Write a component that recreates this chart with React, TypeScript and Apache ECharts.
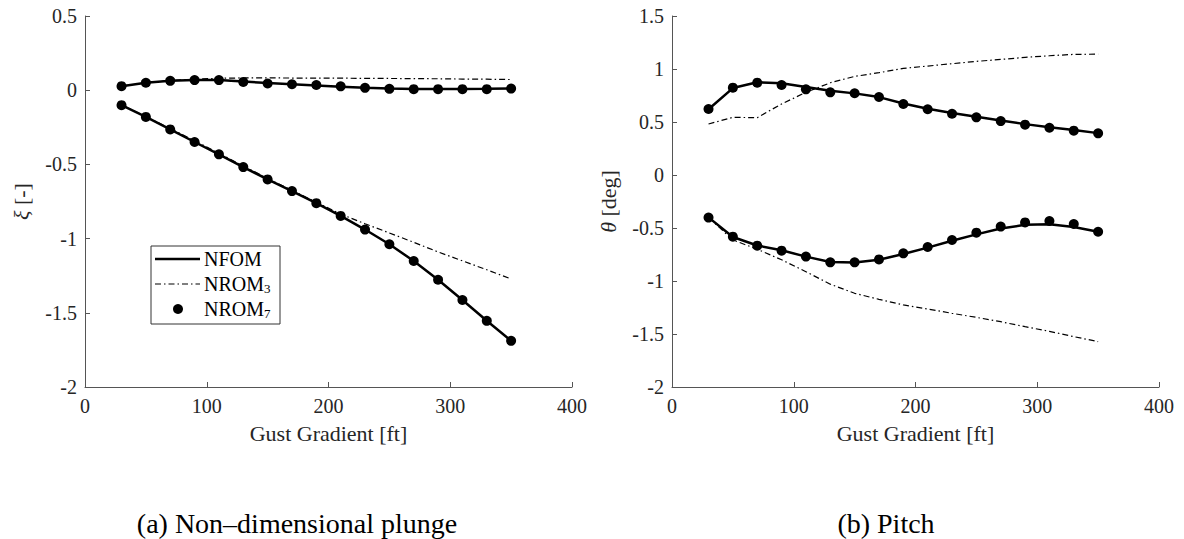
import React, { useEffect, useRef } from "react";
import * as echarts from "echarts";

const gust = [30, 50, 70, 90, 110, 130, 150, 170, 190, 210, 230, 250, 270, 290, 310, 330, 350];

// (a) non-dimensional plunge xi
const xiNfomUpper = [0.027, 0.05, 0.064, 0.069, 0.069, 0.059, 0.048, 0.04, 0.032, 0.024, 0.016, 0.011, 0.008, 0.008, 0.008, 0.009, 0.011];
const xiNfomLower = [-0.101, -0.18, -0.264, -0.349, -0.432, -0.518, -0.601, -0.68, -0.761, -0.847, -0.939, -1.038, -1.151, -1.277, -1.414, -1.554, -1.689];
const xiRom3Upper = [0.027, 0.05, 0.065, 0.074, 0.08, 0.083, 0.083, 0.082, 0.082, 0.081, 0.08, 0.079, 0.078, 0.077, 0.075, 0.074, 0.072];
const xiRom3Lower = [-0.1, -0.178, -0.258, -0.34, -0.425, -0.51, -0.595, -0.675, -0.755, -0.835, -0.9, -0.962, -1.025, -1.09, -1.15, -1.21, -1.272];
const xiRom7Upper = [0.027, 0.05, 0.063, 0.068, 0.068, 0.056, 0.045, 0.04, 0.035, 0.026, 0.016, 0.009, 0.007, 0.007, 0.007, 0.007, 0.011];
const xiRom7Lower = [-0.101, -0.18, -0.264, -0.349, -0.432, -0.518, -0.601, -0.68, -0.761, -0.847, -0.939, -1.038, -1.151, -1.277, -1.414, -1.554, -1.689];

// (b) pitch theta
const thNfomUpper = [0.62, 0.82, 0.875, 0.865, 0.83, 0.795, 0.77, 0.735, 0.675, 0.625, 0.585, 0.55, 0.515, 0.48, 0.45, 0.425, 0.395];
const thNfomLower = [-0.4, -0.585, -0.665, -0.71, -0.77, -0.82, -0.825, -0.8, -0.745, -0.685, -0.62, -0.56, -0.505, -0.47, -0.465, -0.49, -0.535];
const thRom3Upper = [0.481, 0.544, 0.541, 0.67, 0.78, 0.87, 0.93, 0.965, 1.006, 1.028, 1.05, 1.072, 1.09, 1.11, 1.125, 1.138, 1.14];
const thRom3Lower = [-0.4, -0.613, -0.7, -0.8, -0.912, -1.03, -1.116, -1.173, -1.226, -1.264, -1.305, -1.343, -1.384, -1.431, -1.475, -1.525, -1.572];
const thRom7Upper = [0.623, 0.824, 0.871, 0.849, 0.808, 0.78, 0.771, 0.736, 0.67, 0.62, 0.578, 0.544, 0.509, 0.475, 0.446, 0.418, 0.393];
const thRom7Lower = [-0.402, -0.582, -0.667, -0.714, -0.77, -0.824, -0.824, -0.796, -0.739, -0.679, -0.613, -0.544, -0.487, -0.447, -0.434, -0.462, -0.535];

const xTicks = { min: 0, max: 400, interval: 100 };
const yLeft = { min: -2, max: 0.5, interval: 0.5 };
const yRight = { min: -2, max: 1.5, interval: 0.5 };

const FONT = "Liberation Serif";
const DASHDOT = [6, 3, 1.5, 3];
const AXIS_COLOR = "#555";
const TEXT_COLOR = "#262626";

const pairs = (vals: number[]) => gust.map((g, i) => [g, vals[i]]);

function xAxisCfg(gridIndex: number) {
  return {
    type: "value",
    gridIndex,
    min: xTicks.min,
    max: xTicks.max,
    interval: xTicks.interval,
    name: "Gust Gradient [ft]",
    nameLocation: "middle",
    nameGap: 35,
    nameTextStyle: { fontFamily: FONT, fontSize: 22, color: TEXT_COLOR },
    axisLine: { show: true, onZero: false, lineStyle: { color: AXIS_COLOR, width: 1 } },
    axisTick: { show: true, inside: true, length: 5, lineStyle: { color: AXIS_COLOR } },
    axisLabel: { fontFamily: FONT, fontSize: 20, color: TEXT_COLOR, margin: 9 },
    splitLine: { show: false },
  };
}

function yAxisCfg(gridIndex: number, r: { min: number; max: number; interval: number }, sym: string, unit: string) {
  return {
    type: "value",
    gridIndex,
    min: r.min,
    max: r.max,
    interval: r.interval,
    name: `{i|${sym}}{n| ${unit}}`,
    nameLocation: "middle",
    nameGap: 53,
    nameTextStyle: {
      fontFamily: FONT,
      fontSize: 22,
      color: TEXT_COLOR,
      rich: {
        i: { fontFamily: FONT, fontSize: 22, fontStyle: "italic", color: TEXT_COLOR },
        n: { fontFamily: FONT, fontSize: 22, color: TEXT_COLOR },
      },
    },
    axisLine: { show: true, onZero: false, lineStyle: { color: AXIS_COLOR, width: 1 } },
    axisTick: { show: true, inside: true, length: 5, lineStyle: { color: AXIS_COLOR } },
    axisLabel: { fontFamily: FONT, fontSize: 20, color: TEXT_COLOR, margin: 8 },
    splitLine: { show: false },
  };
}

function solid(idx: number, vals: number[]) {
  return {
    type: "line",
    xAxisIndex: idx,
    yAxisIndex: idx,
    data: pairs(vals),
    showSymbol: false,
    lineStyle: { color: "#000", width: 2.5 },
    z: 3,
  };
}
function dashdot(idx: number, vals: number[]) {
  return {
    type: "line",
    xAxisIndex: idx,
    yAxisIndex: idx,
    data: pairs(vals),
    showSymbol: false,
    lineStyle: { color: "#000", width: 1.2, type: DASHDOT },
    z: 2,
  };
}
function dots(idx: number, vals: number[]) {
  return {
    type: "scatter",
    xAxisIndex: idx,
    yAxisIndex: idx,
    data: pairs(vals),
    symbol: "circle",
    symbolSize: 10,
    itemStyle: { color: "#000", opacity: 1 },
    z: 4,
  };
}

export default function App() {
  const ref = useRef<HTMLDivElement>(null);
  useEffect(() => {
    if (!ref.current) return;
    const chart = echarts.init(ref.current, undefined, { renderer: "svg" });
    const lx = 151, ly = 246;
    chart.setOption({
      animation: false,
      backgroundColor: "#fff",
      textStyle: { fontFamily: FONT },
      grid: [
        { left: 85, top: 16, width: 487, height: 371 },
        { left: 672, top: 16, width: 487, height: 371 },
      ],
      xAxis: [xAxisCfg(0), xAxisCfg(1)],
      yAxis: [yAxisCfg(0, yLeft, "ξ", "[-]"), yAxisCfg(1, yRight, "θ", "[deg]")],
      series: [
        dashdot(0, xiRom3Upper),
        dashdot(0, xiRom3Lower),
        solid(0, xiNfomUpper),
        solid(0, xiNfomLower),
        dots(0, xiRom7Upper),
        dots(0, xiRom7Lower),
        dashdot(1, thRom3Upper),
        dashdot(1, thRom3Lower),
        solid(1, thNfomUpper),
        solid(1, thNfomLower),
        dots(1, thRom7Upper),
        dots(1, thRom7Lower),
      ],
      graphic: [
        {
          type: "rect",
          shape: { x: lx, y: ly, width: 129, height: 78 },
          style: { fill: "#fff", stroke: "#333", lineWidth: 1 },
          z: 10,
        },
        {
          type: "line",
          shape: { x1: lx + 4, y1: ly + 13, x2: lx + 49, y2: ly + 13 },
          style: { stroke: "#000", lineWidth: 2.5 },
          z: 11,
        },
        {
          type: "line",
          shape: { x1: lx + 4, y1: ly + 38, x2: lx + 49, y2: ly + 38 },
          style: { stroke: "#000", lineWidth: 1.2, lineDash: DASHDOT },
          z: 11,
        },
        {
          type: "circle",
          shape: { cx: lx + 27, cy: ly + 63, r: 5 },
          style: { fill: "#000" },
          z: 11,
        },
        {
          type: "text",
          x: lx + 53,
          y: ly + 13,
          style: { text: "NFOM", font: `20px ${FONT}`, fill: "#000", verticalAlign: "middle" },
          z: 11,
        },
        {
          type: "text",
          x: lx + 53,
          y: ly + 38,
          style: {
            text: "{a|NROM}{s|3}",
            verticalAlign: "middle",
            rich: {
              a: { fontFamily: FONT, fontSize: 20, fill: "#000" },
              s: { fontFamily: FONT, fontSize: 13, fill: "#000", padding: [9, 0, 0, 0] },
            },
          },
          z: 11,
        },
        {
          type: "text",
          x: lx + 53,
          y: ly + 63,
          style: {
            text: "{a|NROM}{s|7}",
            verticalAlign: "middle",
            rich: {
              a: { fontFamily: FONT, fontSize: 20, fill: "#000" },
              s: { fontFamily: FONT, fontSize: 13, fill: "#000", padding: [9, 0, 0, 0] },
            },
          },
          z: 11,
        },
        {
          type: "text",
          x: 297,
          y: 523,
          style: { text: "(a) Non–dimensional plunge", font: `28px ${FONT}`, fill: "#000", align: "center", verticalAlign: "middle" },
        },
        {
          type: "text",
          x: 886,
          y: 523,
          style: { text: "(b) Pitch", font: `28px ${FONT}`, fill: "#000", align: "center", verticalAlign: "middle" },
        },
      ],
    });
    return () => chart.dispose();
  }, []);
  return (
    <div
      ref={ref}
      style={{ position: "fixed", left: 0, top: 0, width: 1184, height: 539, background: "#fff" }}
    />
  );
}
